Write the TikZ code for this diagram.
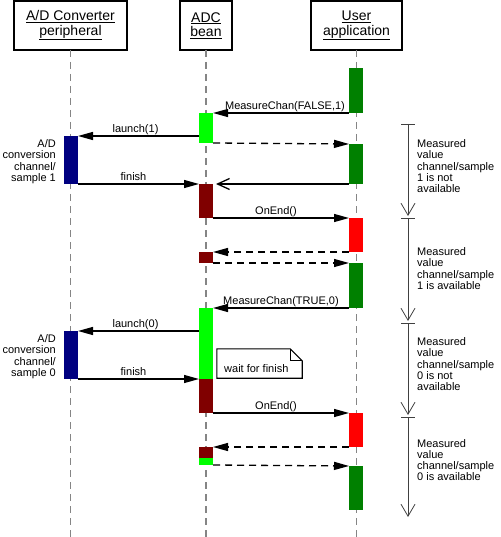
\documentclass[tikz,border=0pt]{standalone}
\usepackage{fontspec}
\setmainfont{Liberation Sans}
\usetikzlibrary{arrows.meta}
\definecolor{ugreen}{HTML}{008000}
\definecolor{lgreen}{HTML}{00FF00}
\definecolor{maroonc}{HTML}{800000}
\definecolor{redc}{HTML}{FF0000}
\definecolor{navyc}{HTML}{000080}
\definecolor{lifegray}{HTML}{858585}
\begin{document}
\begin{tikzpicture}[x=1pt,y=-1pt,
  hdr/.style={draw, line width=1.6pt, fill=white, inner sep=0pt, outer sep=0pt, align=center,
    font=\fontsize{14}{14.5}\selectfont, minimum height=49pt},
  bar/.style={draw=none, inner sep=0pt, outer sep=0pt, minimum width=14pt, anchor=north},
  life/.style={lifegray, line width=1.1pt, dash pattern=on 7pt off 5pt},
  msg/.style={line width=1.3pt, -{Triangle[length=15pt,width=8pt]}},
  ret/.style={msg, dash pattern=on 7pt off 5pt},
  lbl/.style={font=\fontsize{11}{11.25}\selectfont},
  mlbl/.style={lbl, anchor=base, inner sep=0pt, yshift=3.3pt},
  side/.style={lbl, inner sep=0pt, align=left, anchor=north west},
  lside/.style={lbl, inner sep=0pt, align=right, anchor=north east},
  tline/.style={black!75, line width=0.8pt},
  tarrow/.style={tline, -{Straight Barb[length=12pt,width=14pt]}, shorten >=2pt}
]
\useasboundingbox (0,0) rectangle (500,537);
\coordinate (bot) at (0,537);

% headers
\node[hdr, minimum width=113pt] (hA) at (70.5,25.5) {\underline{A/D Converter}\\\underline{peripheral}};
\node[hdr, minimum width=52pt] (hB) at (206,25.5) {\underline{ADC}\\\underline{bean}};
\node[hdr, minimum width=91pt] (hC) at (356.5,25.5) {\underline{User}\\\underline{application}};

% lifelines
\draw[life] (hA.south) -- (hA.south |- bot);
\draw[life] (hB.south) -- (hB.south |- bot);
\draw[life] (hC.south) -- (hC.south |- bot);

% activation bars: A/D converter
\node[bar, fill=navyc, minimum height=48pt] (b1) at (71,136) {};
\node[bar, fill=navyc, minimum height=48pt] (b2) at (71,331) {};
% ADC bean
\node[bar, fill=lgreen, minimum height=30pt] (a1) at (206,113) {};
\node[bar, fill=maroonc, minimum height=34pt] (r1) at (206,184) {};
\node[bar, fill=maroonc, minimum height=11pt] (r2) at (206,252) {};
\node[bar, fill=lgreen, minimum height=71pt] (a2) at (206,308) {};
\node[bar, fill=maroonc, minimum height=34pt] (r3) at (206,379) {};
\node[bar, fill=maroonc, minimum height=11pt] (r4) at (206,447) {};
\node[bar, fill=lgreen, minimum height=7pt] (a3) at (206,458) {};
% User application
\node[bar, fill=ugreen, minimum height=45pt] (u1) at (356,68) {};
\node[bar, fill=ugreen, minimum height=40pt] (u2) at (356,144) {};
\node[bar, fill=redc, minimum height=34pt] (e1) at (356,218) {};
\node[bar, fill=ugreen, minimum height=45pt] (u3) at (356,263) {};
\node[bar, fill=redc, minimum height=34pt] (e2) at (356,413) {};
\node[bar, fill=ugreen, minimum height=44pt] (u4) at (356,466) {};

% messages, first cycle
\draw[msg] (u1.south west) -- node[mlbl, xshift=4pt] {MeasureChan(FALSE,1)} (a1.north east);
\draw[ret] (a1.south east) -- (u2.north west);
\draw[msg] (b1.north east -| a1.west) -- node[mlbl, xshift=-3pt] {launch(1)} (b1.north east);
\draw[msg] (b1.south east) -- node[mlbl, xshift=-5pt] {finish} (r1.north west);
\draw[line width=1.3pt, -{Straight Barb[length=12pt,width=11pt]}, shorten >=3pt] (u2.south west) -- (r1.north east);
\draw[msg] (r1.south east) -- node[mlbl, xshift=-5pt] {OnEnd()} (e1.north west);
\draw[ret] (e1.south west) -- (r2.north east);
\draw[ret] (r2.south east) -- (u3.north west);

% messages, second cycle
\draw[msg] (u3.south west) -- node[mlbl] {MeasureChan(TRUE,0)} (a2.north east);
\draw[msg] (b2.north east -| a2.west) -- node[mlbl, xshift=-3pt] {launch(0)} (b2.north east);
\draw[msg] (b2.south east) -- node[mlbl, xshift=-5pt] {finish} (r3.north west);
\draw[msg] (r3.south east) -- node[mlbl, xshift=-5pt] {OnEnd()} (e2.north west);
\draw[ret] (e2.south west) -- (r4.north east);
\draw[ret] (a3.south east) -- (u4.north west);

% note
\node[draw=none, inner sep=0pt, minimum width=85pt, minimum height=29pt] (note) at (259.5,363.5) {};
\draw[line width=1.1pt, fill=white] (note.north west) -- ([xshift=-12pt]note.north east)
  -- ([yshift=-12pt]note.north east) -- (note.south east) -- (note.south west) -- cycle;
\draw[line width=1.1pt] ([xshift=-12pt]note.north east) -- ([xshift=-12pt,yshift=-12pt]note.north east)
  -- ([yshift=-12pt]note.north east);
\node[lbl, anchor=base west, inner sep=0pt] (notetext) at (224,372) {wait for finish};

% side labels, left
\node[lside] (l1) at (56,139.5) {A/D\\conversion\\channel/\\sample 1};
\node[lside] (l2) at (56,334.5) {A/D\\conversion\\channel/\\sample 0};

% timing bracket
\coordinate (t1) at (408,124);
\coordinate (t2) at (408,218);
\coordinate (t3) at (408,323);
\coordinate (t4) at (408,417);
\coordinate (t5) at (408,519);
\foreach \t in {t1,t2,t3,t4} \draw[tline] ([xshift=-7pt]\t) -- ([xshift=7pt]\t);
\draw[tarrow] (t1) -- (t2);
\draw[tarrow] (t2) -- (t3);
\draw[tarrow] (t3) -- (t4);
\draw[tarrow] (t4) -- (t5);

% side labels, right
\node[side] (s1) at (417,139.5) {Measured\\value\\channel/sample\\1 is not\\available};
\node[side] (s2) at (417,247.5) {Measured\\value\\channel/sample\\1 is available};
\node[side] (s3) at (417,337.5) {Measured\\value\\channel/sample\\0 is not\\available};
\node[side] (s4) at (417,439) {Measured\\value\\channel/sample\\0 is available};
\end{tikzpicture}
\end{document}
